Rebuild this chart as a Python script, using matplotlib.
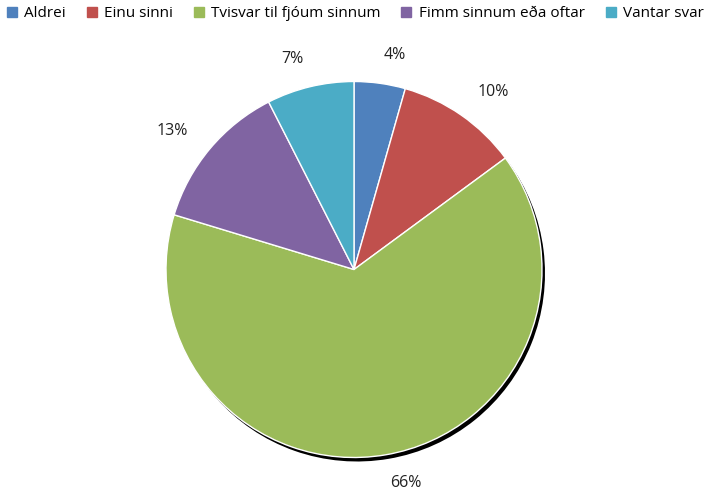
import matplotlib
matplotlib.use("Agg")
import matplotlib.pyplot as plt
from matplotlib.lines import Line2D

categories = ["Aldrei", "Einu sinni", "Tvisvar til fjóum sinnum", "Fimm sinnum eða oftar", "Vantar svar"]
values = [4.4, 10.5, 64.8, 12.8, 7.5]
labels = ["4%", "10%", "66%", "13%", "7%"]
colors = ["#4F81BD", "#C0504D", "#9BBB59", "#8064A2", "#4BACC6"]

plt.rcParams["font.family"] = ["Open Sans", "DejaVu Sans"]

W, H = 708, 492
fig = plt.figure(figsize=(W / 100, H / 100), dpi=100)

# axes in pixel units, centred on the pie
cx, cy, half = 354, 269.5, 240
ax = fig.add_axes([(cx - half) / W, (H - cy - half) / H, 2 * half / W, 2 * half / H])
ax.axis("off")

R = 188
# shadow
ax.pie(values, radius=R, center=(3, -4), startangle=90, counterclock=False,
       colors=["black"] * len(values), wedgeprops=dict(linewidth=0))
ax.pie(values, radius=R, startangle=90, counterclock=False, colors=colors,
       labels=labels, labeldistance=1.15,
       textprops=dict(fontsize=11.5, color="#222222"),
       wedgeprops=dict(edgecolor="white", linewidth=1))
ax.set_xlim(-half, half)
ax.set_ylim(-half, half)
ax.set_aspect("equal")

handles = [Line2D([], [], marker="s", linestyle="none", markersize=7,
                  markerfacecolor=c, markeredgecolor=c) for c in colors]
fig.legend(handles, categories, loc="upper center", bbox_to_anchor=(0.5, 1.015),
           ncol=5, frameon=False, fontsize=11, handletextpad=0.3,
           columnspacing=1.2, handlelength=1.0)

fig.savefig("out.png", dpi=100)
